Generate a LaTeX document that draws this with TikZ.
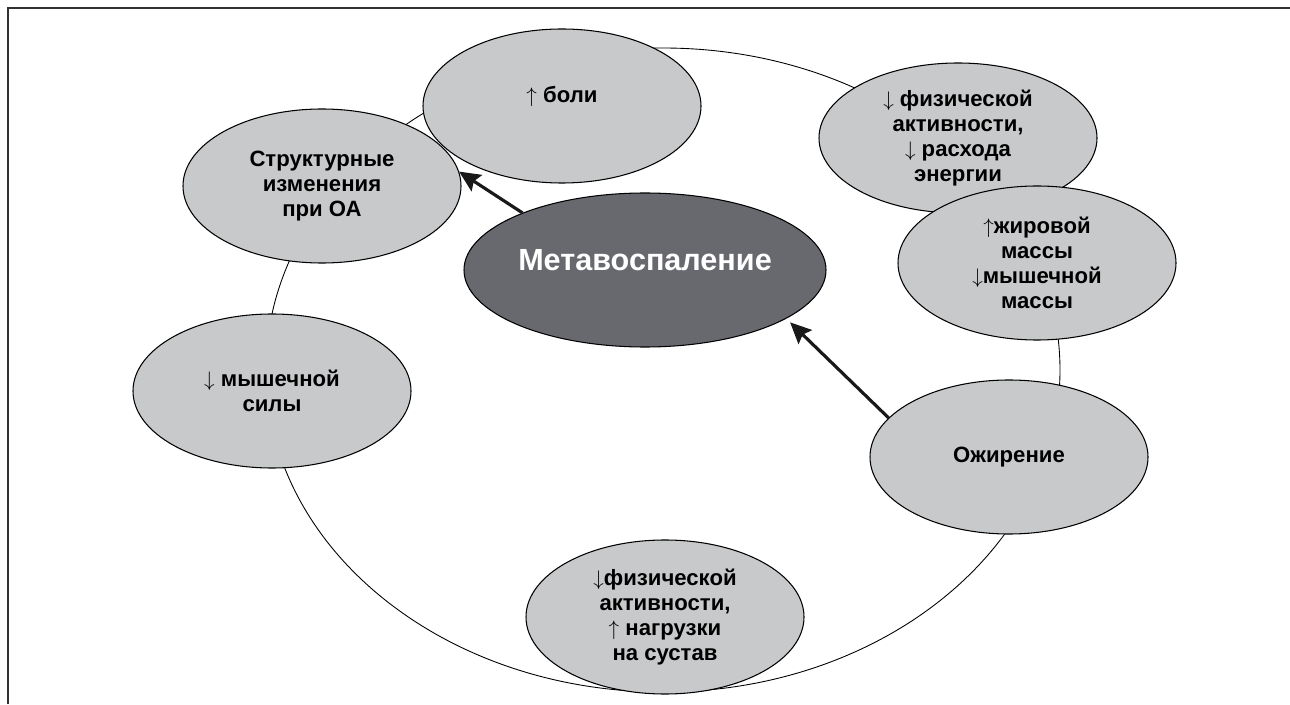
\documentclass[tikz,border=0pt]{standalone}
\usepackage{fontspec}
\setmainfont{Liberation Sans}
\usepackage{tikz}
\usetikzlibrary{arrows.meta, shapes.geometric}
\definecolor{ovalgray}{RGB}{200,201,203}
\definecolor{coregray}{RGB}{104,105,110}
\definecolor{framegray}{RGB}{50,50,52}

\begin{document}
\begin{tikzpicture}[
  factor/.style={draw, ellipse, fill=ovalgray, line width=0.6pt, minimum width=5.56cm,
                 minimum height=3.08cm, inner sep=0pt, align=center,
                 font=\fontsize{12.6}{14.3}\selectfont\bfseries},
  core/.style={factor, fill=coregray, minimum width=7.24cm, text=white,
               font=\fontsize{17.4}{20}\selectfont\bfseries},
  ring/.style={draw, line width=0.5pt},
  arr/.style={-{Stealth[length=12pt, width=11pt, inset=2pt]}, line width=1.8pt, color=black!90}
]
  \useasboundingbox (0,0) rectangle (25.8,14.08);
  \draw[framegray, line width=1.2pt] (0.16,0) -- (0.16,13.92) -- (25.8,13.92);

  \draw[ring] (13.26,6.68) ellipse [x radius=7.94cm, y radius=6.44cm];

  \node[factor] (struct)  at (6.44,10.36)  {Структурные\\изменения\\при ОА};
  \node[factor, text depth=0.45cm] (pain) at (11.24,11.96) {$\uparrow$ боли};
  \node[factor, minimum height=3.0cm] (activity) at (19.16,11.32)
       {$\downarrow$ физической\\активности,\\$\downarrow$ расхода\\энергии};
  \node[factor] (fat)     at (20.74,8.82)  {$\uparrow$жировой\\массы\\$\downarrow$мышечной\\массы};
  \node[core, text depth=0.4cm] (meta) at (12.90,8.68) {Метавоспаление};
  \node[factor] (strength) at (5.44,6.26)  {$\downarrow$ мышечной\\силы};
  \node[factor] (obesity) at (20.18,4.94)  {Ожирение};
  \node[factor] (load)    at (13.30,1.74)
       {$\downarrow$физической\\активности,\\$\uparrow$ нагрузки\\на сустав};

  \draw[arr] (meta.155) -- (struct.6);
  \draw[arr, shorten >=3pt] (obesity.162) -- (meta.-19);
\end{tikzpicture}
\end{document}
